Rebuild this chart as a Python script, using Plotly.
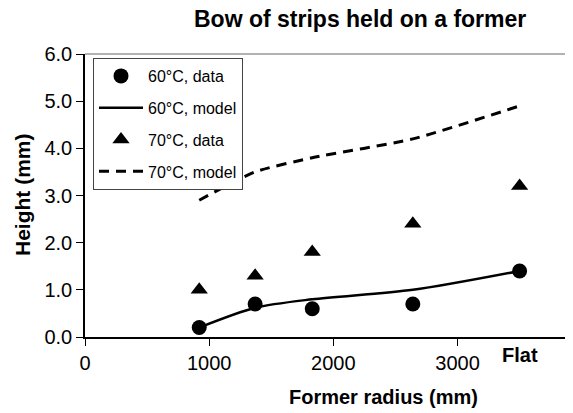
import plotly.graph_objects as go

radius = [920, 1370, 1830, 2640, 3500]   # last point = "Flat"
h60_data = [0.2, 0.7, 0.6, 0.7, 1.4]
h60_model = [0.2, 0.62, 0.8, 1.0, 1.4]
h70_data = [1.0, 1.3, 1.8, 2.4, 3.2]
h70_model = [2.9, 3.5, 3.8, 4.2, 4.9]
x_ticks = [0, 1000, 2000, 3000]
x_ticktext = ["0", "1000", "2000", "3000"]
flat_x = 3500
y_ticks = [0, 1, 2, 3, 4, 5, 6]

FONT = "Liberation Sans, Arial, sans-serif"
OFF = 8  # page body margin
L, T, PW, PH = 85 - OFF, 54 - OFF, 488, 283
W, H = 573 - OFF, 413 - OFF


def px(sx):
    return (sx - OFF - L) / PW


def py(sy):
    return 1 - (sy - OFF - T) / PH


fig = go.Figure()
fig.add_trace(go.Scatter(x=radius, y=h60_data, mode="markers", name="60°C, data",
                         legendgroup="a",
                         marker=dict(symbol="circle", size=15, color="black")))
fig.add_trace(go.Scatter(x=radius, y=h60_model, mode="lines", name="60°C, model",
                         legendgroup="b",
                         line=dict(color="black", width=2.5, shape="spline", smoothing=0.8)))
fig.add_trace(go.Scatter(x=radius, y=h70_data, mode="markers", name="70°C, data",
                         legendgroup="c",
                         marker=dict(symbol="triangle-up", size=15, color="black")))
fig.add_trace(go.Scatter(x=radius, y=h70_model, mode="lines", name="70°C, model",
                         legendgroup="d",
                         line=dict(color="black", width=3, dash="10px,7px", shape="spline", smoothing=0.6)))

fig.update_layout(
    template="none",
    width=W, height=H,
    margin=dict(l=L, r=W - L - PW, t=T, b=H - T - PH, autoexpand=False),
    paper_bgcolor="white", plot_bgcolor="white",
    font=dict(family=FONT, color="black", size=20),
    showlegend=True,
    legend=dict(x=px(93), y=py(58), xanchor="left", yanchor="top",
                bordercolor="#444", borderwidth=1, bgcolor="white",
                font=dict(size=16, family=FONT, color="black"), traceorder="grouped",
                tracegroupgap=8, itemwidth=44),
    xaxis=dict(range=[0, 3930], tickvals=x_ticks, ticktext=x_ticktext, automargin=False,
               showgrid=False, zeroline=False, showline=True, linecolor="black", linewidth=1.5,
               ticks="outside", ticklen=7, tickcolor="black", tickwidth=1,
               tickfont=dict(size=20, family=FONT, color="black")),
    yaxis=dict(range=[0, 6], tickvals=y_ticks, tickformat=".1f", automargin=False,
               showgrid=False, zeroline=False, showline=True, linecolor="black", linewidth=1.5,
               ticks="outside", ticklen=7, tickcolor="black", tickwidth=1,
               tickfont=dict(size=20, family=FONT, color="black")),
    shapes=[dict(type="line", xref="paper", yref="paper", x0=0, x1=1, y0=1, y1=1,
                 line=dict(color="#999", width=1.5))],
    annotations=[
        dict(text="<b>Bow of strips held on a former</b>", xref="paper", yref="paper",
             x=px(360), y=py(19), xanchor="center", yanchor="middle",
             showarrow=False, font=dict(size=23, family=FONT)),
        dict(text="<b>Former radius (mm)</b>", xref="paper", yref="paper", x=px(383),
             y=py(397), xanchor="center", yanchor="middle", showarrow=False,
             font=dict(size=20, family=FONT)),
        dict(text="<b>Height (mm)</b>", xref="paper", yref="paper", x=px(22), y=py(195),
             textangle=-90, xanchor="center", yanchor="middle", showarrow=False,
             font=dict(size=21, family=FONT)),
        dict(text="<b>Flat</b>", xref="x", yref="paper", x=flat_x, y=py(355),
             xanchor="center", yanchor="middle", showarrow=False, font=dict(size=20, family=FONT)),
    ],
)

fig.write_html("out.html")
